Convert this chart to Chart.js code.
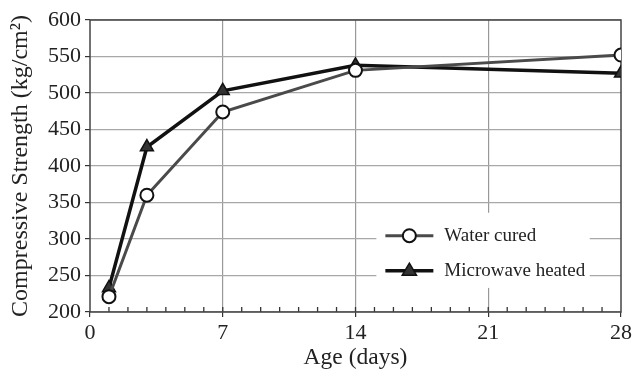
<!doctype html>
<html lang="en">
<head>
    <meta charset="utf-8">
    <title>Compressive Strength vs Age</title>
    <script src="https://cdn.jsdelivr.net/npm/chart.js"></script>
    <style>
        html, body { margin: 0; padding: 0; background: #fff; }
        .chart-box { width: 636px; height: 372px; }
    </style>
</head>
<body>
    <div class="chart-box"><canvas id="strengthChart" width="636" height="372"></canvas></div>
    <script>
        const ageDays = [1, 3, 7, 14, 28];
        const waterCured = [221, 360, 474, 531, 552];
        const microwaveHeated = [233, 426, 503, 538, 527];
        const seriesNames = ['Water cured', 'Microwave heated'];
        const xTicks = [0, 7, 14, 21, 28];
        const yTicks = [200, 250, 300, 350, 400, 450, 500, 550, 600];

        const serif = '"Liberation Serif", "DejaVu Serif", serif';

        const toPoints = (xs, ys) => xs.map((x, i) => ({ x: x, y: ys[i] }));

        // frame, inner minor ticks and the boxed legend
        const extras = {
            id: 'extras',
            beforeDatasetsDraw(chart) {
                const { ctx, chartArea: a, scales: { x } } = chart;
                ctx.save();
                ctx.strokeStyle = '#333';
                ctx.lineWidth = 1.3;
                for (let d = 1; d < 28; d++) {
                    const px = x.getPixelForValue(d);
                    ctx.beginPath();
                    ctx.moveTo(px, a.bottom);
                    ctx.lineTo(px, a.bottom - 5);
                    ctx.stroke();
                }
                ctx.strokeStyle = '#444';
                ctx.lineWidth = 1.5;
                ctx.strokeRect(a.left, a.top, a.right - a.left, a.bottom - a.top);
                ctx.restore();
            },
            afterDraw(chart) {
                const { ctx, scales: { x, y } } = chart;
                const left = x.getPixelForValue(15.1);
                const right = x.getPixelForValue(26.35);
                const top = y.getPixelForValue(336);
                const bottom = y.getPixelForValue(233);
                ctx.save();
                ctx.fillStyle = '#fff';
                ctx.fillRect(left, top, right - left, bottom - top);
                const rowY = [top + 23, top + 58];
                chart.data.datasets.forEach((ds, i) => {
                    const yy = rowY[i];
                    const x0 = left + 9, x1 = left + 57, xm = (x0 + x1) / 2;
                    ctx.strokeStyle = ds.borderColor;
                    ctx.lineWidth = ds.borderWidth;
                    ctx.beginPath();
                    ctx.moveTo(x0, yy);
                    ctx.lineTo(x1, yy);
                    ctx.stroke();
                    ctx.fillStyle = ds.pointBackgroundColor;
                    ctx.strokeStyle = ds.pointBorderColor;
                    ctx.lineWidth = ds.pointBorderWidth;
                    ctx.beginPath();
                    if (ds.pointStyle === 'triangle') {
                        const r = ds.pointRadius;
                        ctx.moveTo(xm, yy - r);
                        ctx.lineTo(xm + r * 0.95, yy + r * 0.6);
                        ctx.lineTo(xm - r * 0.95, yy + r * 0.6);
                        ctx.closePath();
                    } else {
                        ctx.arc(xm, yy, ds.pointRadius, 0, Math.PI * 2);
                    }
                    ctx.fill();
                    ctx.stroke();
                    ctx.fillStyle = '#222';
                    ctx.font = '19px ' + serif;
                    ctx.textBaseline = 'middle';
                    ctx.textAlign = 'left';
                    ctx.fillText(ds.label, left + 68, yy);
                });
                ctx.restore();
            }
        };

        new Chart(document.getElementById('strengthChart'), {
            type: 'line',
            data: {
                datasets: [{
                    label: seriesNames[0],
                    data: toPoints(ageDays, waterCured),
                    borderColor: '#4a4a4a',
                    borderWidth: 3,
                    pointStyle: 'circle',
                    pointRadius: 6.5,
                    pointBackgroundColor: '#fff',
                    pointBorderColor: '#111',
                    pointBorderWidth: 2
                }, {
                    label: seriesNames[1],
                    data: toPoints(ageDays, microwaveHeated),
                    borderColor: '#111',
                    borderWidth: 3.5,
                    pointStyle: 'triangle',
                    pointRadius: 7.5,
                    pointBackgroundColor: '#333',
                    pointBorderColor: '#111',
                    pointBorderWidth: 1.5
                }]
            },
            options: {
                responsive: false,
                animation: false,
                layout: { padding: { left: 0, right: 15, top: 20, bottom: 0 } },
                plugins: {
                    legend: { display: false },
                    tooltip: { enabled: false }
                },
                scales: {
                    x: {
                        type: 'linear',
                        min: 0,
                        max: 28,
                        afterBuildTicks: (s) => { s.ticks = Array.from({ length: 29 }, (_, i) => ({ value: i })); },
                        afterFit: (s) => { s.height = 60; },
                        border: { display: false },
                        grid: {
                            color: (c) => (c.tick && c.tick.value % 7 === 0 && c.tick.value > 0 && c.tick.value < 28) ? '#999' : 'rgba(0,0,0,0)',
                            tickColor: (c) => (c.tick && c.tick.value % 7 === 0) ? '#333' : 'rgba(0,0,0,0)',
                            tickLength: 5,
                            lineWidth: 1.2
                        },
                        ticks: {
                            autoSkip: false,
                            maxRotation: 0,
                            color: '#222',
                            font: { family: serif, size: 22 },
                            padding: 3,
                            callback: (v) => xTicks.includes(v) ? v : ''
                        },
                        title: {
                            display: true,
                            text: 'Age (days)',
                            color: '#222',
                            font: { family: serif, size: 23.5 },
                            padding: { top: 0, bottom: 0 }
                        }
                    },
                    y: {
                        min: 200,
                        max: 600,
                        ticks: {
                            stepSize: 25,
                            color: '#222',
                            font: { family: serif, size: 22 },
                            padding: 4,
                            callback: (v) => yTicks.includes(v) ? v : ''
                        },
                        afterFit: (s) => { s.width = 90; },
                        border: { display: false },
                        grid: {
                            color: '#a8a8a8',
                            tickColor: '#333',
                            tickLength: 5,
                            lineWidth: 1.2
                        },
                        title: {
                            display: true,
                            text: 'Compressive Strength (kg/cm²)',
                            color: '#222',
                            font: { family: serif, size: 24 },
                            padding: { top: 6, bottom: 0 }
                        }
                    }
                }
            },
            plugins: [extras]
        });
    </script>
</body>
</html>
